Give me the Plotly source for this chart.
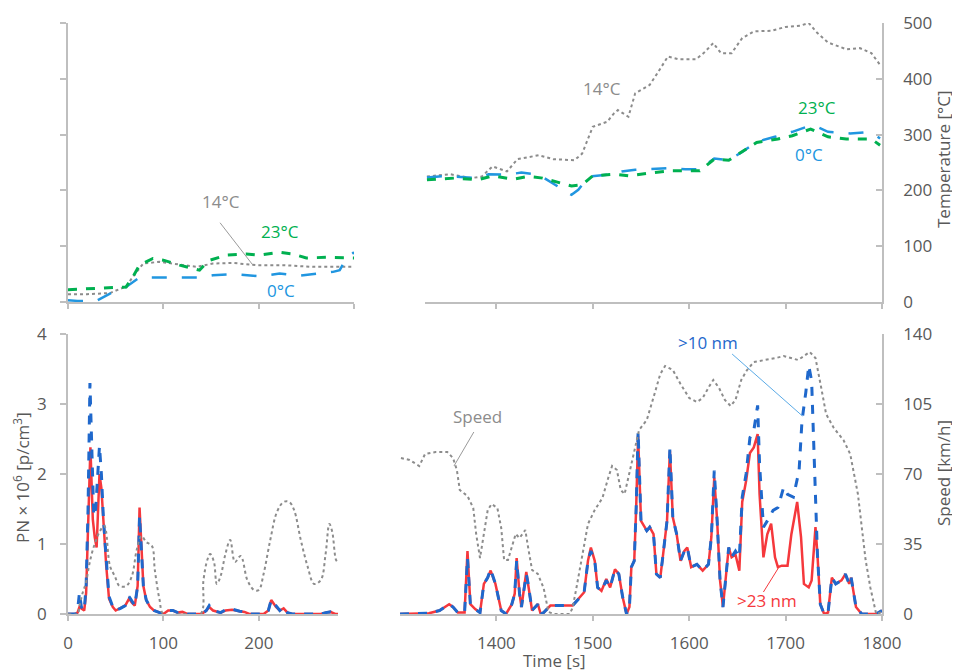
import plotly.graph_objects as go

# page body has an 8px default margin -> figure drawn at (8, 8) in the window
OFF = 8
W, H = 960 - OFF, 671 - OFF

# ---------------- Data ----------------
# Top-left: exhaust temperature, cold-start phase (s, °C)
tl_t14 = [0, 20, 44, 61, 68, 79, 96, 110, 135, 152, 173, 198, 226, 257, 280, 300]
tl_T14 = [14, 14, 16, 28, 45, 69, 72, 69, 63, 69, 70, 66, 66, 63, 63, 63]
tl_t23 = [0, 15, 30, 44, 61, 68, 75, 89, 100, 117, 138, 144, 149, 166, 187, 201, 222, 236, 250, 271, 300]
tl_T23 = [22, 23, 24, 25, 27, 45, 66, 78, 75, 66, 57, 68, 75, 84, 86, 84, 89, 86, 79, 80, 79]
tl_t0 = [0, 10, 30, 44, 61, 75, 96, 138, 152, 173, 201, 222, 243, 278, 285, 292, 300]
tl_T0 = [3, 2, 2, 15, 27, 44, 44, 44, 48, 50, 46, 51, 47, 54, 57, 78, 89]

# Top-right: exhaust temperature, motorway phase (s, °C)
tr_t14 = [1328, 1352, 1374, 1385, 1396, 1411, 1422, 1444, 1459, 1481, 1489, 1500, 1515, 1522, 1526,
          1537, 1544, 1559, 1567, 1578, 1589, 1607, 1615, 1625, 1633, 1644, 1655, 1667, 1685, 1700,
          1715, 1724, 1733, 1744, 1763, 1777, 1789, 1798]
tr_T14 = [225, 229, 222, 225, 243, 234, 256, 263, 256, 254, 266, 314, 323, 338, 344,
          332, 374, 389, 410, 440, 435, 435, 446, 464, 446, 446, 473, 485, 486, 493,
          495, 500, 482, 465, 453, 455, 446, 425]
tr_t0 = [1328, 1348, 1381, 1392, 1411, 1426, 1444, 1463, 1478, 1485, 1496, 1515, 1530, 1544, 1578,
         1596, 1611, 1626, 1641, 1655, 1670, 1689, 1707, 1722, 1730, 1744, 1767, 1781, 1793, 1798]
tr_T0 = [223, 226, 222, 229, 228, 232, 228, 207, 192, 201, 225, 228, 234, 237, 240,
         238, 238, 257, 254, 269, 287, 296, 305, 314, 316, 305, 302, 304, 299, 293]
tr_t23 = [1328, 1356, 1381, 1396, 1418, 1433, 1448, 1467, 1478, 1489, 1500, 1522, 1537, 1559, 1581,
          1611, 1626, 1641, 1655, 1670, 1692, 1707, 1726, 1744, 1763, 1789, 1798]
tr_T23 = [219, 222, 219, 226, 220, 225, 222, 213, 208, 210, 226, 229, 226, 231, 235,
          235, 256, 254, 269, 286, 292, 298, 310, 296, 292, 292, 281]

# Bottom-left: PN and vehicle speed, cold-start phase
bl_t_spd = [0, 10, 12, 15, 19, 22, 26, 33, 38, 44, 49, 54, 61, 67, 72, 77, 82, 88, 91, 96, 100,
            120, 139, 142, 146, 149, 153, 156, 160, 165, 170, 175, 181, 188, 195, 200, 205, 212,
            219, 226, 232, 237, 244, 251, 258, 265, 270, 274, 277, 281, 283]
bl_spd = [0, 0, 4, 10, 16, 24, 32, 41, 44, 24, 19, 14, 14, 19, 32, 39, 36, 34, 22, 7, 0,
          0, 0, 17, 27, 30, 26, 15, 19, 30, 37, 26, 29, 17, 12, 12, 20, 37,
          51, 56, 56, 52, 37, 24, 15, 17, 30, 45, 41, 27, 26]
bl_t_pn10 = [0, 8, 10, 12, 14, 17, 19, 21, 23, 25, 27, 29, 31, 33, 35, 37, 40, 43, 47, 50, 55, 60,
             64, 67, 70, 73, 75, 77, 79, 82, 86, 90, 95, 100, 105, 110, 115, 120, 125, 140, 145,
             148, 152, 160, 165, 172, 180, 185, 190, 205, 210, 213, 218, 222, 226, 230, 235, 265,
             270, 275, 280, 283]
bl_pn10 = [0, 0, 0.05, 0.3, 0.1, 0.05, 0.4, 1.5, 3.3, 2.5, 1.4, 1.5, 2.0, 2.4, 2.0, 1.4, 0.8, 0.25,
           0.1, 0.05, 0.08, 0.12, 0.25, 0.18, 0.12, 0.4, 1.4, 0.9, 0.4, 0.2, 0.1, 0.05, 0.03, 0,
           0.05, 0.05, 0.02, 0.03, 0, 0, 0.05, 0.12, 0.05, 0.02, 0.06, 0.07, 0.04, 0.03, 0, 0,
           0.05, 0.2, 0.12, 0.05, 0.1, 0.02, 0, 0, 0.02, 0.03, 0, 0]
bl_t_pn23 = [0, 8, 10, 12, 14, 17, 19, 21, 23.5, 26, 28, 30, 33, 35, 37, 40, 43, 47, 50, 55, 60,
             64, 67, 70, 73, 75, 77, 79, 82, 86, 90, 95, 100, 105, 110, 115, 120, 125, 140, 145,
             148, 152, 160, 165, 172, 180, 185, 190, 205, 210, 213, 218, 222, 226, 230, 235, 265,
             270, 275, 280, 283]
bl_pn23 = [0, 0, 0.02, 0.1, 0.08, 0.05, 0.3, 1.2, 2.38, 1.35, 1.1, 0.95, 2.0, 1.8, 1.3, 0.7, 0.22,
           0.1, 0.05, 0.08, 0.12, 0.22, 0.16, 0.12, 0.4, 1.52, 0.9, 0.4, 0.2, 0.1, 0.05, 0.03, 0,
           0.05, 0.05, 0.02, 0.03, 0, 0, 0.05, 0.1, 0.05, 0.02, 0.05, 0.06, 0.04, 0.03, 0, 0,
           0.05, 0.2, 0.1, 0.05, 0.08, 0.02, 0, 0, 0.02, 0.03, 0, 0]

# Bottom-right: PN and vehicle speed, motorway phase
br_t_spd = [1301, 1310, 1320, 1326, 1337, 1349, 1355, 1359, 1362, 1370, 1376, 1379, 1383, 1387,
            1391, 1395, 1401, 1405, 1408, 1412, 1416, 1420, 1424, 1430, 1433, 1437, 1443, 1449,
            1454, 1460, 1476, 1479, 1483, 1489, 1495, 1502, 1510, 1516, 1520, 1525, 1529, 1533,
            1537, 1541, 1548, 1556, 1564, 1570, 1575, 1583, 1591, 1600, 1608, 1614, 1621, 1625,
            1631, 1637, 1643, 1648, 1654, 1660, 1667, 1679, 1690, 1698, 1706, 1713, 1725, 1731,
            1737, 1742, 1750, 1760, 1767, 1775, 1783, 1788, 1794, 1800]
br_spd = [78, 77, 74, 80, 81, 81, 78, 72, 62, 59, 53, 40, 28, 40,
          52, 55, 53, 43, 27, 27, 33, 40, 38, 42, 33, 22, 20, 13,
          1, 0, 0, 3, 13, 30, 45, 52, 58, 68, 74, 72, 62, 60,
          68, 77, 92, 97, 110, 120, 124, 122, 115, 108, 106, 108, 114, 117,
          113, 107, 104, 107, 117, 122, 126, 127, 128, 129, 128, 127, 131, 128,
          113, 100, 93, 87, 80, 60, 27, 13, 0, 1]
br_t_pn10 = [1300, 1318, 1330, 1341, 1351, 1355, 1360, 1367, 1370, 1373, 1378, 1383, 1387, 1391,
             1394, 1399, 1405, 1410, 1416, 1419, 1421, 1424, 1426, 1431, 1433, 1437, 1443, 1446,
             1449, 1456, 1479, 1485, 1491, 1495, 1498, 1502, 1505, 1509, 1514, 1518, 1523, 1527,
             1531, 1535, 1538, 1540, 1543, 1545, 1547, 1550, 1556, 1559, 1563, 1566, 1570, 1573,
             1577, 1580, 1583, 1587, 1591, 1595, 1598, 1602, 1608, 1614, 1620, 1623, 1626, 1629,
             1632, 1635, 1638, 1641, 1644, 1648, 1652, 1655, 1659, 1663, 1667, 1671, 1673, 1677,
             1681, 1687, 1692, 1698, 1702, 1708, 1714, 1717, 1721, 1724, 1727, 1730, 1733, 1736,
             1740, 1744, 1748, 1752, 1758, 1762, 1766, 1768, 1773, 1779, 1794, 1800]
br_pn10 = [0, 0, 0.01, 0.05, 0.14, 0.1, 0.02, 0.02, 0.8, 0.14, 0.07, 0.02, 0.43, 0.52,
           0.64, 0.43, 0.05, 0, 0.14, 0.29, 0.76, 0.29, 0.1, 0.57, 0.43, 0.05, 0.14, 0,
           0.02, 0.12, 0.12, 0.21, 0.31, 0.76, 0.9, 0.76, 0.38, 0.33, 0.48, 0.38, 0.64, 0.57,
           0.24, 0, 0.1, 0.67, 0.76, 1.52, 2.6, 1.33, 1.19, 1.24, 1.14, 0.57, 0.52, 0.86,
           1.33, 2.38, 1.38, 1.14, 0.76, 0.9, 0.95, 0.67, 0.71, 0.62, 0.71, 1.1, 2.05, 1.33,
           0.48, 0.1, 0.48, 0.95, 0.81, 0.9, 0.81, 1.67, 2.0, 2.52, 2.62, 2.98, 2.14, 1.24,
           1.33, 1.48, 1.52, 1.81, 1.71, 1.67, 2.05, 2.76, 3.17, 3.55, 3.33, 2.05, 0.86, 0.14,
           0, 0.02, 0.52, 0.43, 0.48, 0.57, 0.43, 0.52, 0.1, 0, 0, 0.05]
br_t_pn23 = [1300, 1318, 1330, 1341, 1351, 1355, 1360, 1367, 1370, 1373, 1378, 1383, 1387, 1391,
             1394, 1399, 1405, 1410, 1416, 1419, 1421, 1424, 1426, 1431, 1433, 1437, 1443, 1446,
             1449, 1456, 1479, 1485, 1491, 1495, 1498, 1502, 1505, 1509, 1514, 1518, 1523, 1527,
             1531, 1535, 1538, 1540, 1543, 1545, 1547, 1550, 1556, 1559, 1563, 1566, 1570, 1573,
             1577, 1580, 1583, 1587, 1591, 1595, 1598, 1602, 1608, 1614, 1620, 1623, 1626, 1629,
             1632, 1635, 1638, 1641, 1644, 1648, 1652, 1655, 1659, 1663, 1667, 1671, 1673, 1677,
             1681, 1685, 1689, 1692, 1696, 1702, 1706, 1710, 1712, 1716, 1719, 1724, 1727, 1731,
             1733, 1736, 1740, 1744, 1748, 1752, 1758, 1762, 1766, 1768, 1773, 1779, 1794, 1800]
br_pn23 = [0, 0, 0.01, 0.05, 0.14, 0.1, 0.02, 0.02, 0.9, 0.14, 0.07, 0.02, 0.43, 0.52,
           0.62, 0.43, 0.05, 0, 0.14, 0.29, 0.8, 0.29, 0.1, 0.6, 0.43, 0.05, 0.14, 0,
           0.02, 0.12, 0.12, 0.21, 0.31, 0.76, 0.95, 0.76, 0.38, 0.33, 0.5, 0.38, 0.64, 0.57,
           0.24, 0, 0.1, 0.67, 0.76, 1.52, 2.55, 1.33, 1.19, 1.24, 1.14, 0.57, 0.52, 0.86,
           1.33, 2.33, 1.38, 1.14, 0.76, 0.9, 0.95, 0.67, 0.71, 0.62, 0.71, 1.1, 1.95, 1.33,
           0.48, 0.1, 0.48, 0.95, 0.81, 0.85, 0.62, 1.6, 1.9, 2.3, 2.38, 2.57, 1.71, 0.81,
           1.14, 1.29, 0.81, 0.67, 0.69, 0.69, 1.14, 1.48, 1.6, 1.1, 0.43, 0.38, 0.48, 1.24,
           0.86, 0.14, 0, 0.02, 0.52, 0.43, 0.48, 0.57, 0.43, 0.52, 0.1, 0, 0, 0.05]

temp_ticks = [0, 100, 200, 300, 400, 500]
pn_ticks = [0, 1, 2, 3, 4]
speed_ticks = [0, 35, 70, 105, 140]
tl_xticks = [0, 100, 200, 300]
bl_xticks = [0, 100, 200]
tr_xticks = [1400, 1500, 1600, 1700, 1800]

# ---------------- Style ----------------
FONT = "Open Sans"
TXT = "#595959"
AX = "#bfbfbf"
GRAY = "#8c8c8c"
GREEN = "#00b050"
LBLUE = "#2196e0"
DBLUE = "#1f68cc"
RED = "#f5383c"


def px_x(p):
    """window pixel x -> paper fraction"""
    return (p - OFF) / W


def px_y(p):
    """window pixel y -> paper fraction"""
    return 1 - (p - OFF) / H


dom_top = [px_y(302), px_y(23)]
dom_bot = [px_y(614), px_y(334)]

fig = go.Figure()

# Top-left
fig.add_trace(go.Scatter(x=tl_t14, y=tl_T14, xaxis="x", yaxis="y", mode="lines",
                         line=dict(color=GRAY, width=2, dash="dot")))
fig.add_trace(go.Scatter(x=tl_t0, y=tl_T0, xaxis="x", yaxis="y", mode="lines",
                         line=dict(color=LBLUE, width=2.5, dash="longdash")))
fig.add_trace(go.Scatter(x=tl_t23, y=tl_T23, xaxis="x", yaxis="y", mode="lines",
                         line=dict(color=GREEN, width=3, dash="dash")))
# Top-right
fig.add_trace(go.Scatter(x=tr_t14, y=tr_T14, xaxis="x2", yaxis="y2", mode="lines",
                         line=dict(color=GRAY, width=2, dash="dot")))
fig.add_trace(go.Scatter(x=tr_t0, y=tr_T0, xaxis="x2", yaxis="y2", mode="lines",
                         line=dict(color=LBLUE, width=2.5, dash="longdash")))
fig.add_trace(go.Scatter(x=tr_t23, y=tr_T23, xaxis="x2", yaxis="y2", mode="lines",
                         line=dict(color=GREEN, width=3, dash="dash")))
# Bottom-left
fig.add_trace(go.Scatter(x=bl_t_spd, y=bl_spd, xaxis="x3", yaxis="y5", mode="lines",
                         line=dict(color=GRAY, width=2, dash="dot", shape="spline")))
fig.add_trace(go.Scatter(x=bl_t_pn23, y=bl_pn23, xaxis="x3", yaxis="y3", mode="lines",
                         line=dict(color=RED, width=2.5)))
fig.add_trace(go.Scatter(x=bl_t_pn10, y=bl_pn10, xaxis="x3", yaxis="y3", mode="lines",
                         line=dict(color=DBLUE, width=3, dash="dash")))
# Bottom-right
fig.add_trace(go.Scatter(x=br_t_spd, y=br_spd, xaxis="x4", yaxis="y6", mode="lines",
                         line=dict(color=GRAY, width=2, dash="dot")))
fig.add_trace(go.Scatter(x=br_t_pn23, y=br_pn23, xaxis="x4", yaxis="y4", mode="lines",
                         line=dict(color=RED, width=2.5)))
fig.add_trace(go.Scatter(x=br_t_pn10, y=br_pn10, xaxis="x4", yaxis="y4", mode="lines",
                         line=dict(color=DBLUE, width=3, dash="dash")))

tickfont = dict(family=FONT, size=17, color=TXT)
base_x = dict(showline=True, linecolor=AX, linewidth=1.5, ticks="outside", ticklen=5,
              tickcolor=AX, tickwidth=1.5, showgrid=False, zeroline=False, tickfont=tickfont,
              ticklabelstandoff=8, automargin=False)
base_y = dict(showline=True, linecolor=AX, linewidth=1.5, ticklen=6, tickcolor=AX,
              tickwidth=1.5, showgrid=False, zeroline=False, tickfont=tickfont,
              automargin=False)

fig.update_layout(
    width=W, height=H, margin=dict(l=0, r=0, t=0, b=0, autoexpand=False),
    paper_bgcolor="white", plot_bgcolor="white", showlegend=False,
    font=dict(family=FONT, color=TXT),
    xaxis=dict(base_x, domain=[px_x(68), px_x(354)], anchor="y", range=[0, 300],
               tickvals=tl_xticks, showticklabels=False),
    yaxis=dict(base_y, domain=dom_top, anchor="x", range=[0, 500], tickvals=temp_ticks,
               ticks="outside", showticklabels=False),
    xaxis2=dict(base_x, domain=[px_x(425), px_x(882)], anchor="y2", range=[1326, 1800],
                tickvals=tr_xticks, showticklabels=False),
    yaxis2=dict(base_y, domain=dom_top, anchor="x2", side="right", range=[0, 500],
                tickvals=temp_ticks, ticks="inside", ticklabelstandoff=16),
    xaxis3=dict(base_x, domain=[px_x(68), px_x(338)], anchor="y3", range=[0, 283],
                tickvals=bl_xticks),
    yaxis3=dict(base_y, domain=dom_bot, anchor="x3", range=[0, 4], tickvals=pn_ticks,
                ticks="outside", ticklabelstandoff=10),
    yaxis5=dict(overlaying="y3", anchor="x3", range=[0, 140], visible=False, automargin=False),
    xaxis4=dict(base_x, domain=[px_x(400), px_x(882)], anchor="y4", range=[1300, 1800],
                tickvals=tr_xticks),
    yaxis4=dict(domain=dom_bot, anchor="x4", range=[0, 4], visible=False, automargin=False),
    yaxis6=dict(base_y, overlaying="y4", anchor="x4", side="right", range=[0, 140],
                tickvals=speed_ticks, ticks="inside", ticklabelstandoff=16),
)

ann_font = dict(family=FONT, size=17)
annotations = [
    # top-left labels
    dict(x=160.5, y=181, xref="x", yref="y", text="14°C", font=dict(ann_font, color=GRAY)),
    dict(x=222, y=127, xref="x", yref="y", text="23°C", font=dict(ann_font, color=GREEN)),
    dict(x=223.5, y=20, xref="x", yref="y", text="0°C", font=dict(ann_font, color=LBLUE)),
    # top-right labels
    dict(x=1510, y=383, xref="x2", yref="y2", text="14°C", font=dict(ann_font, color=GRAY)),
    dict(x=1733, y=348, xref="x2", yref="y2", text="23°C", font=dict(ann_font, color=GREEN)),
    dict(x=1724, y=265, xref="x2", yref="y2", text="0°C", font=dict(ann_font, color=LBLUE)),
    # bottom-right labels
    dict(x=1620, y=136, xref="x4", yref="y6", text=">10 nm", font=dict(ann_font, color=DBLUE)),
    dict(x=1380, y=99, xref="x4", yref="y6", text="Speed", font=dict(ann_font, color=GRAY)),
    dict(x=1681, y=7, xref="x4", yref="y6", text=">23 nm", font=dict(ann_font, color=RED)),
    # axis titles
    dict(x=px_x(944), y=px_y(159), xref="paper", yref="paper", text="Temperature [°C]",
         textangle=-90, font=dict(ann_font, color=TXT)),
    dict(x=px_x(944), y=px_y(473), xref="paper", yref="paper", text="Speed [km/h]",
         textangle=-90, font=dict(ann_font, color=TXT)),
    dict(x=px_x(21), y=px_y(478), xref="paper", yref="paper",
         text="PN × 10<sup>6</sup> [p/cm<sup>3</sup>]",
         textangle=-90, font=dict(ann_font, color=TXT)),
    dict(x=px_x(554), y=px_y(660), xref="paper", yref="paper", text="Time [s]",
         font=dict(ann_font, color=TXT)),
]
for a in annotations:
    a.setdefault("showarrow", False)
    a.setdefault("xanchor", "center")
    a.setdefault("yanchor", "middle")
fig.update_layout(annotations=annotations)

shapes = [
    dict(type="line", xref="x", yref="y", x0=159.5, y0=142, x1=194, y1=66,
         line=dict(color="#9a9a9a", width=1)),
    dict(type="line", xref="x4", yref="y6", x0=1644.5, y0=130, x1=1717.5, y1=99,
         line=dict(color="#5aaae6", width=1)),
    dict(type="line", xref="x4", yref="y6", x0=1376.6, y0=91, x1=1356, y1=74,
         line=dict(color="#9a9a9a", width=1)),
    dict(type="line", xref="x4", yref="y6", x0=1677, y0=11, x1=1692.5, y1=23,
         line=dict(color=RED, width=1)),
]
fig.update_layout(shapes=shapes)

fig.write_html("out.html")
